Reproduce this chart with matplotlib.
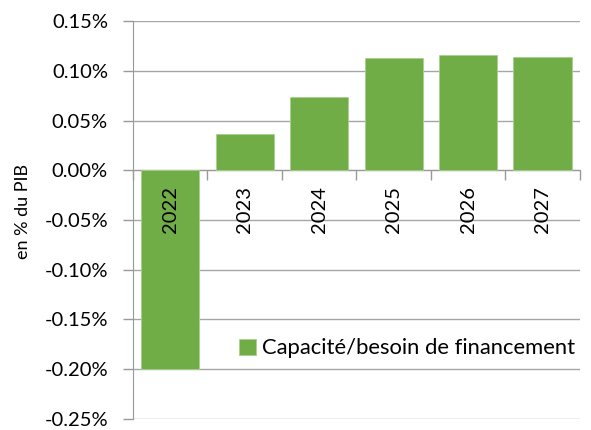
import matplotlib.pyplot as plt
from matplotlib.ticker import FuncFormatter

years = ['2022', '2023', '2024', '2025', '2026', '2027']
values = [-0.200, 0.036, 0.074, 0.113, 0.116, 0.114]

plt.rcParams['font.family'] = ['Lato', 'DejaVu Sans']

fig = plt.figure(figsize=(5.91, 4.30), dpi=100)
ax = fig.add_axes([0.225, 0.026, 0.756, 0.925])

x = list(range(len(years)))
ax.bar(x, values, width=0.78, color='#70AD47', edgecolor='#A9D18E', linewidth=0.6,
       label='Capacité/besoin de financement', zorder=3)

ax.set_xlim(-0.5, len(years) - 0.5)
ax.set_ylim(-0.25, 0.15)
ax.set_yticks([-0.25, -0.20, -0.15, -0.10, -0.05, 0.0, 0.05, 0.10, 0.15])
ax.yaxis.set_major_formatter(FuncFormatter(lambda v, p: f'{v:.2f}%'))
ax.grid(axis='y', color='#A6A6A6', linewidth=1.0, zorder=0)

grey = '#999999'
for s in ['top', 'right']:
    ax.spines[s].set_visible(False)
ax.spines['left'].set_color(grey)
ax.spines['bottom'].set_color(grey)
ax.spines['bottom'].set_position(('data', 0))

ax.set_xticks([i - 0.5 for i in range(len(years) + 1)])
ax.set_xticklabels([])
ax.tick_params(axis='x', direction='out', length=7, color=grey, width=1)
ax.tick_params(axis='y', direction='out', length=7, color=grey, width=1,
               labelsize=14.5, pad=11)

for i, yr in zip(x, years):
    ax.text(i, -0.016, yr, rotation=90, ha='center', va='top', fontsize=14.5, zorder=4)

ax.set_ylabel('en % du PIB', fontsize=13)
ax.yaxis.set_label_coords(-0.228, 0.52)

ax.legend(loc='lower right', bbox_to_anchor=(1.01, 0.13), frameon=False, fontsize=15.8,
          handlelength=0.75, handleheight=0.75, handletextpad=0.3, borderaxespad=0)

fig.savefig('out.png', dpi=100)
